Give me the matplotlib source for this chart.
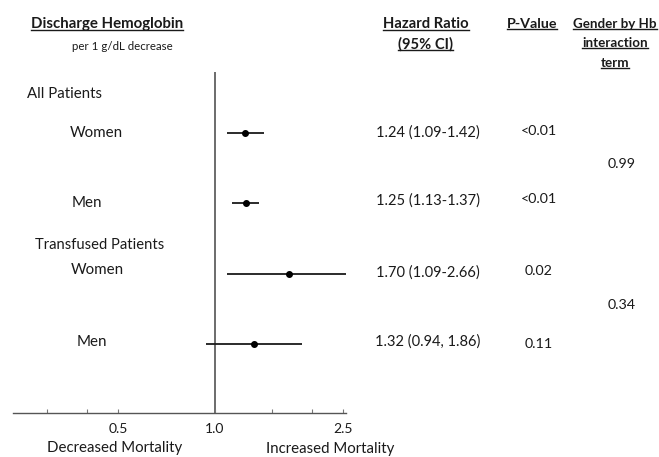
import matplotlib
matplotlib.use("Agg")
import matplotlib.pyplot as plt
from matplotlib.lines import Line2D
import numpy as np

plt.rcParams['font.family'] = ['Lato', 'DejaVu Sans']

# ---- data ----
groups = ["All Patients", "Transfused Patients"]
subgroups = ["Women", "Men", "Women", "Men"]
hr = [1.24, 1.25, 1.70, 1.32]
ci_low = [1.09, 1.13, 1.09, 0.94]
ci_high = [1.42, 1.37, 2.66, 1.86]
hr_text = ["1.24 (1.09-1.42)", "1.25 (1.13-1.37)", "1.70 (1.09-2.66)", "1.32 (0.94, 1.86)"]
p_text = ["<0.01", "<0.01", "0.02", "0.11"]
interaction = ["0.99", "0.34"]
major_ticks = [0.5, 1.0, 2.5]
major_labels = ["0.5", "1.0", "2.5"]
minor_ticks = [0.3, 0.4, 1.5, 2.0]

W, H = 659, 457
fig = plt.figure(figsize=(W / 100, H / 100), dpi=100)

def fx(px):
    return px / W

def fy(py):
    return 1 - py / H

# axes: pixel box x 13..346, y 72..413
ax = fig.add_axes([fx(13), fy(413), fx(346) - fx(13), fy(72) - fy(413)])
ax.set_xscale('log')
ax.set_xlim(0.236, 2.55)
ax.set_ylim(3.98, -0.87)

ypos = np.arange(len(hr))
for i in range(len(hr)):
    ax.plot([ci_low[i], ci_high[i]], [ypos[i], ypos[i]], color='#1a1a1a', lw=1.3,
            solid_capstyle='butt', zorder=2)
ax.plot(hr, ypos, 'o', color='black', markersize=4.0, zorder=3)
ax.axvline(1.0, color='#444444', lw=1.1, zorder=1)

for s in ['top', 'right', 'left']:
    ax.spines[s].set_visible(False)
ax.spines['bottom'].set_color('#555555')
ax.spines['bottom'].set_linewidth(1.0)
ax.set_yticks([])
ax.set_xticks(major_ticks)
ax.set_xticklabels(major_labels)
ax.set_xticks(minor_ticks, minor=True)
ax.xaxis.set_minor_formatter(matplotlib.ticker.NullFormatter())
ax.tick_params(axis='x', which='both', direction='in', length=3, width=0.8,
               color='#777777', labelsize=10, pad=7, labelcolor='#1a1a1a')

txt = '#1a1a1a'
# left labels
fig.text(fx(27), fy(94), groups[0], fontsize=10.8, color=txt, va='center', ha='left')
fig.text(fx(35), fy(245), groups[1], fontsize=10.6, color=txt, va='center', ha='left')
sub_x = [70, 72, 71, 77]
sub_y = [133, 203, 270, 342]
for i, s in enumerate(subgroups):
    fig.text(fx(sub_x[i]), fy(sub_y[i]), s, fontsize=10.9, color=txt, va='center', ha='left')

# table columns
hr_y = [133, 201, 273, 342]
p_y = [131, 199, 271, 344]
for i in range(len(hr)):
    fig.text(fx(428), fy(hr_y[i]), hr_text[i], fontsize=10.5, color=txt, va='center', ha='center')
    fig.text(fx(539), fy(p_y[i]), p_text[i], fontsize=10.3, color=txt, va='center', ha='center')
fig.text(fx(622), fy(164), interaction[0], fontsize=10.3, color=txt, va='center', ha='center')
fig.text(fx(622), fy(305), interaction[1], fontsize=10.3, color=txt, va='center', ha='center')

# headers (bold, underlined)
headers = []
headers.append(fig.text(fx(107), fy(24), "Discharge Hemoglobin", fontsize=10.8, fontweight='bold',
                        color=txt, va='center', ha='center'))
fig.text(fx(122), fy(46), "per 1 g/dL decrease", fontsize=8.3, color=txt, va='center', ha='center')
headers.append(fig.text(fx(426), fy(24), "Hazard Ratio", fontsize=10.6, fontweight='bold',
                        color=txt, va='center', ha='center'))
headers.append(fig.text(fx(426), fy(44), "(95% CI)", fontsize=10.6, fontweight='bold',
                        color=txt, va='center', ha='center'))
headers.append(fig.text(fx(532), fy(24), "P-Value", fontsize=10.3, fontweight='bold',
                        color=txt, va='center', ha='center'))
headers.append(fig.text(fx(615), fy(24), "Gender by Hb", fontsize=9.6, fontweight='bold',
                        color=txt, va='center', ha='center'))
headers.append(fig.text(fx(615), fy(43), "interaction", fontsize=9.6, fontweight='bold',
                        color=txt, va='center', ha='center'))
headers.append(fig.text(fx(615), fy(63), "term", fontsize=9.6, fontweight='bold',
                        color=txt, va='center', ha='center'))

# bottom labels
fig.text(fx(115), fy(448), "Decreased Mortality", fontsize=10.8, color=txt, va='center', ha='center')
fig.text(fx(330), fy(449), "Increased Mortality", fontsize=10.8, color=txt, va='center', ha='center')

# underline headers
fig.canvas.draw()
renderer = fig.canvas.get_renderer()
for t in headers:
    bb = t.get_window_extent(renderer)
    y0 = (bb.y0 + 1) / (H)
    fig.add_artist(Line2D([bb.x0 / W, bb.x1 / W], [y0, y0], color=txt, lw=1.0,
                          transform=fig.transFigure))

fig.savefig("out.png", dpi=100)
